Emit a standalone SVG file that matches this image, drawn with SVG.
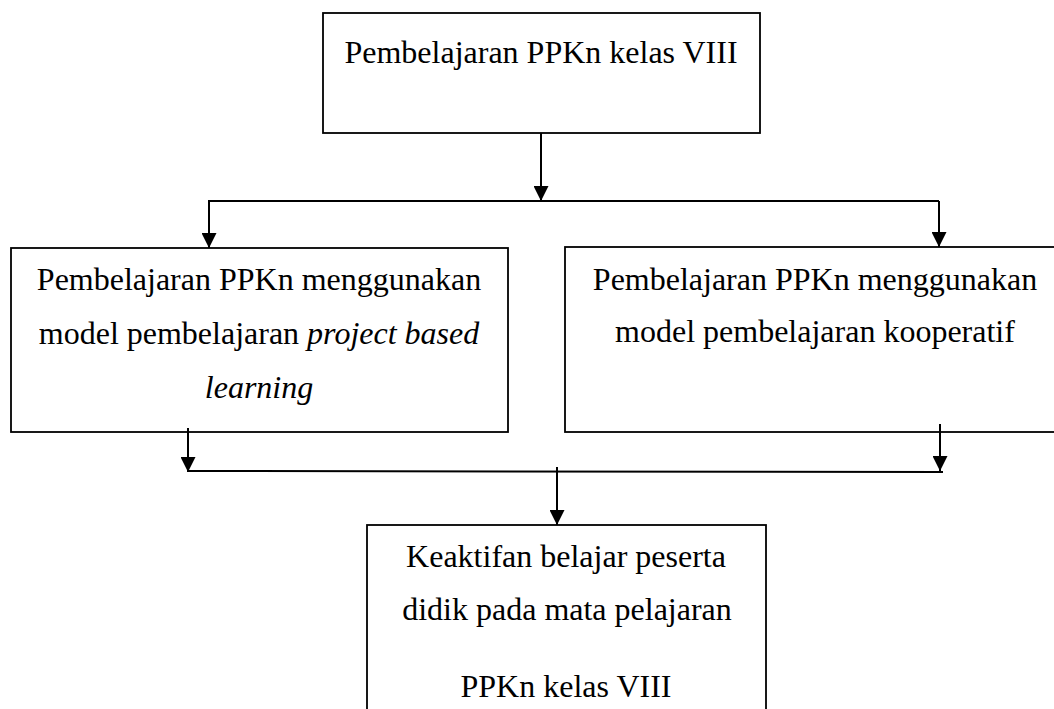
<svg xmlns="http://www.w3.org/2000/svg" width="1054" height="709" viewBox="0 0 1054 709">
<style>
.box{fill:#fff;stroke:#000;stroke-width:1.8}
.t{font-family:"Liberation Serif","Times New Roman",serif;font-size:32px;fill:#000;text-anchor:middle}
.i{font-style:italic}
.c{stroke:#000;stroke-width:2;fill:none}
</style>
<defs>
<marker id="ah" markerUnits="userSpaceOnUse" markerWidth="15" markerHeight="15" viewBox="0 0 15 15" refX="15" refY="7.5" orient="auto">
<path d="M0,0 L15,7.5 L0,15 Z" fill="#000"/>
</marker>
</defs>
<rect width="1054" height="709" fill="#fff"/>
<g id="n1">
<rect class="box" x="323" y="13" width="437" height="120"/>
<text class="t" x="541" y="63">Pembelajaran PPKn kelas VIII</text>
</g>
<g id="n2">
<rect class="box" x="11" y="248" width="497" height="184"/>
<text class="t" x="259" y="290">Pembelajaran PPKn menggunakan</text>
<text class="t" x="259" y="344">model pembelajaran <tspan class="i">project based</tspan></text>
<text class="t i" x="259" y="398">learning</text>
</g>
<g id="n3">
<rect class="box" x="565" y="247" width="493" height="185"/>
<text class="t" x="815" y="290">Pembelajaran PPKn menggunakan</text>
<text class="t" x="815" y="342">model pembelajaran kooperatif</text>
</g>
<g id="n4">
<rect class="box" x="367" y="525" width="399" height="200"/>
<text class="t" x="566" y="567">Keaktifan belajar peserta</text>
<text class="t" x="567" y="620">didik pada mata pelajaran</text>
<text class="t" x="566" y="697">PPKn kelas VIII</text>
</g>
<g id="connectors">
<line class="c" x1="541" y1="133" x2="541" y2="201" marker-end="url(#ah)"/>
<line class="c" x1="208" y1="201" x2="939" y2="201" stroke-width="2.5"/>
<line class="c" x1="209" y1="201" x2="209" y2="248" marker-end="url(#ah)"/>
<line class="c" x1="939" y1="201" x2="939" y2="247" marker-end="url(#ah)"/>
<line class="c" x1="188" y1="428" x2="188" y2="472" marker-end="url(#ah)"/>
<line class="c" x1="940" y1="424" x2="940" y2="471" marker-end="url(#ah)"/>
<line class="c" x1="189" y1="471" x2="943" y2="472" stroke-width="2.5"/>
<line class="c" x1="557" y1="467" x2="557" y2="525" marker-end="url(#ah)"/>
</g>
</svg>
